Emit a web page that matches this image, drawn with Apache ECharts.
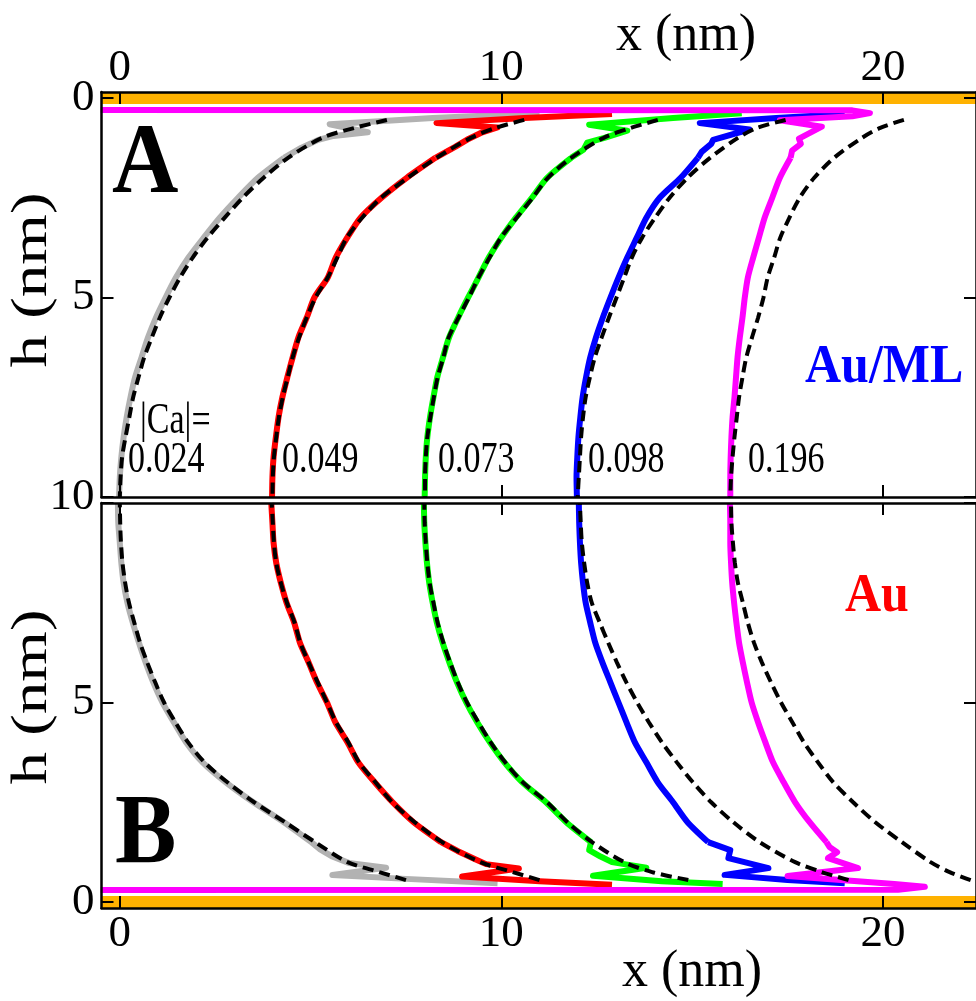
<!DOCTYPE html>
<html>
<head>
<meta charset="utf-8">
<script src="https://cdn.jsdelivr.net/npm/echarts@6/dist/echarts.min.js"></script>
<style>
  html, body { margin: 0; padding: 0; background: #fff; }
  #chart { width: 976px; height: 1001px; }
</style>
</head>
<body>
<div id="chart"></div>
<script>
// Meniscus profiles x(h) for five capillary numbers, panel A (Au/ML walls) and panel B (Au walls).
// Solid: simulated interface; dashed: fitted profile.

const CA_LABELS = ['0.024', '0.049', '0.073', '0.098', '0.196'];
const X_TICKS = [0, 10, 20];
const H_TICKS_A = [0, 5, 10];
const H_TICKS_B = [0, 5];

// heights (nm) at which the fitted profiles are listed
const H_FIT = [0.55, 0.75, 1, 1.5, 2, 2.5, 3, 3.5, 4, 4.5, 5, 5.5, 6, 6.5, 7, 7.5, 8, 8.5, 9, 9.5, 10];
// heights (nm) at which the simulated profiles away from the wall are listed
const H_BULK = [1.5, 2, 2.5, 3, 3.5, 4, 4.5, 5, 5.5, 6, 6.5, 7, 7.5, 8, 8.5, 9, 9.5, 10];

// ---- panel A : fitted x (nm) on H_FIT
const fitA024 = [7.0, 6.15, 5.3, 4.41, 3.77, 3.22, 2.75, 2.3, 1.91, 1.58, 1.3, 1.05, 0.84, 0.64, 0.49, 0.35, 0.25, 0.15, 0.06, 0.02, 0];
const fitA049 = [10.6, 9.85, 9.2, 8.3, 7.55, 6.85, 6.35, 5.95, 5.7, 5.45, 5.13, 4.9, 4.7, 4.53, 4.4, 4.27, 4.17, 4.1, 4.04, 4.01, 4.0];
const fitA073 = [14.1, 13.4, 12.68, 11.83, 11.22, 10.82, 10.4, 9.99, 9.69, 9.4, 9.15, 8.88, 8.62, 8.48, 8.33, 8.23, 8.14, 8.06, 8.02, 8.0, 8.0];
const fitA098 = [17.45, 16.7, 16.2, 15.47, 14.88, 14.41, 14.03, 13.69, 13.42, 13.22, 13.02, 12.82, 12.63, 12.45, 12.32, 12.21, 12.14, 12.09, 12.06, 12.03, 12.0];
const fitA196 = [20.55, 19.93, 19.45, 18.72, 18.2, 17.82, 17.55, 17.31, 17.15, 16.98, 16.87, 16.73, 16.57, 16.42, 16.32, 16.23, 16.17, 16.11, 16.06, 16.02, 16.0];

// ---- panel A : simulated profile, near-wall part as [x, h] and bulk x on H_BULK
const wallA024 = [[11.0, 0.38], [8.2, 0.5], [5.5, 0.66], [6.5, 0.86], [5.6, 0.95], [5.2, 1.05], [4.75, 1.25]];
const bulkA024 = [4.3, 3.62, 3.1, 2.62, 2.2, 1.8, 1.47, 1.2, 0.95, 0.74, 0.57, 0.4, 0.28, 0.18, 0.1, 0.04, 0.0, -0.02];
const wallA049 = [[12.9, 0.4], [10.6, 0.5], [8.3, 0.63], [9.9, 0.74], [9.5, 0.86], [9.15, 1.02], [8.8, 1.22]];
const bulkA049 = [8.27, 7.52, 6.86, 6.31, 5.96, 5.66, 5.45, 5.1, 4.9, 4.68, 4.53, 4.39, 4.26, 4.16, 4.09, 4.03, 4.0, 3.99];
const wallA073 = [[16.3, 0.38], [14.5, 0.5], [12.3, 0.67], [13.3, 0.82], [12.7, 1.0], [12.25, 1.12], [12.15, 1.3]];
const bulkA073 = [11.83, 11.2, 10.8, 10.38, 10.0, 9.67, 9.4, 9.13, 8.87, 8.63, 8.47, 8.32, 8.22, 8.13, 8.06, 8.02, 8.0, 7.99];
const wallA098 = [[19.0, 0.4], [17.2, 0.5], [15.2, 0.63], [16.5, 0.79], [15.55, 1.05], [15.5, 1.15], [15.25, 1.35]];
const bulkA098 = [15.15, 14.7, 14.15, 13.8, 13.55, 13.3, 13.07, 12.86, 12.66, 12.48, 12.33, 12.22, 12.13, 12.07, 12.02, 11.99, 11.97, 11.98];
const wallA196 = [[-0.5, 0.3], [19.2, 0.31], [19.66, 0.38], [19.2, 0.46], [17.3, 0.56], [18.4, 0.72], [17.8, 1.02], [17.85, 1.15], [17.62, 1.32]];
const bulkA196 = [17.58, 17.3, 17.1, 16.9, 16.75, 16.6, 16.46, 16.38, 16.32, 16.25, 16.19, 16.15, 16.11, 16.06, 16.03, 16.01, 16.0, 16.0];

// ---- panel B : fitted x (nm) on H_FIT
const fitB024 = [7.5, 6.8, 5.97, 5.12, 4.33, 3.52, 2.82, 2.22, 1.79, 1.46, 1.16, 0.93, 0.72, 0.53, 0.38, 0.24, 0.14, 0.07, 0.03, 0.01, 0];
const fitB049 = [11.0, 10.3, 9.45, 8.45, 7.73, 7.14, 6.7, 6.27, 5.99, 5.67, 5.43, 5.19, 4.95, 4.73, 4.58, 4.38, 4.22, 4.1, 4.04, 4.01, 3.98];
const fitB073 = [14.9, 13.95, 13.22, 12.38, 11.73, 11.2, 10.56, 10.1, 9.72, 9.4, 9.1, 8.86, 8.66, 8.48, 8.33, 8.22, 8.12, 8.06, 8.02, 7.99, 7.98];
const fitB098 = [19.1, 18.4, 17.7, 16.77, 16.08, 15.5, 15.02, 14.6, 14.21, 13.87, 13.56, 13.28, 13.03, 12.8, 12.58, 12.37, 12.25, 12.17, 12.11, 12.08, 12.06];
const fitB196 = [22.3, 21.75, 21.25, 20.5, 19.8, 19.22, 18.7, 18.3, 17.93, 17.63, 17.33, 17.07, 16.83, 16.62, 16.46, 16.33, 16.2, 16.12, 16.07, 16.03, 16.02];

// ---- panel B : simulated profile
const wallB024 = [[9.9, 0.47], [7.5, 0.58], [5.57, 0.68], [6.98, 0.86], [6.0, 0.98], [5.55, 1.15], [5.25, 1.32]];
const bulkB024 = [5.02, 4.3, 3.5, 2.78, 2.17, 1.74, 1.42, 1.12, 0.88, 0.68, 0.5, 0.34, 0.2, 0.1, 0.04, 0.0, -0.04, -0.05];
const wallB049 = [[12.9, 0.43], [11.0, 0.52], [8.97, 0.64], [10.46, 0.84], [9.6, 0.95], [9.3, 1.08], [8.85, 1.28]];
const bulkB049 = [8.42, 7.7, 7.15, 6.68, 6.25, 5.97, 5.65, 5.43, 5.17, 4.95, 4.72, 4.57, 4.37, 4.22, 4.1, 4.03, 4.0, 3.97];
const wallB073 = [[15.8, 0.45], [14.2, 0.52], [12.4, 0.66], [13.8, 0.86], [12.9, 1.0], [12.6, 1.14], [12.3, 1.3]];
const bulkB073 = [12.35, 11.7, 11.17, 10.55, 10.08, 9.7, 9.37, 9.08, 8.84, 8.64, 8.46, 8.31, 8.2, 8.11, 8.05, 8.01, 7.98, 7.97];
const wallB098 = [[19.0, 0.47], [17.5, 0.55], [15.85, 0.68], [17.0, 0.85], [15.95, 1.1], [16.0, 1.3]];
const bulkB098 = [15.42, 14.88, 14.5, 14.1, 13.8, 13.5, 13.28, 13.07, 12.86, 12.65, 12.46, 12.33, 12.21, 12.14, 12.09, 12.06, 12.04, 12.03];
const wallB196 = [[-0.5, 0.3], [20.4, 0.31], [21.1, 0.38], [20.3, 0.45], [17.5, 0.65], [19.35, 0.85], [18.56, 1.1], [18.8, 1.25], [18.6, 1.38]];
const bulkB196 = [18.52, 18.08, 17.7, 17.4, 17.12, 16.92, 16.73, 16.56, 16.44, 16.33, 16.23, 16.16, 16.1, 16.05, 16.02, 16.0, 16.0, 15.99];

// gold wall surface (h = 0) spanning the whole x range
const WALL_H = 0;

// ---------------------------------------------------------------------------
const X_MIN = -0.48, X_MAX = 22.44;
const H_MIN = -0.15, H_MAX = 10;
const COLORS = ['#b2b2b2', '#ff0000', '#00ff00', '#0000ff', '#ff00ff'];
const ORANGE = '#ffb200';
const SERIF = '"Liberation Serif", "DejaVu Serif", serif';

const simA = [[wallA024, bulkA024], [wallA049, bulkA049], [wallA073, bulkA073], [wallA098, bulkA098], [wallA196, bulkA196]];
const simB = [[wallB024, bulkB024], [wallB049, bulkB049], [wallB073, bulkB073], [wallB098, bulkB098], [wallB196, bulkB196]];
const fitA = [fitA024, fitA049, fitA073, fitA098, fitA196];
const fitB = [fitB024, fitB049, fitB073, fitB098, fitB196];

const bulkPoints = bulk => H_BULK.map((h, i) => [bulk[i], h]);
const fitData = xs => H_FIT.map((h, i) => [xs[i], h]);

function panelSeries(sims, fits, axisIdx, tag) {
  const out = [];
  const common = { type: 'line', xAxisIndex: axisIdx, yAxisIndex: axisIdx, symbol: 'none', silent: true };
  out.push(Object.assign({
    name: 'wall ' + tag, data: [[X_MIN, WALL_H], [X_MAX, WALL_H]],
    lineStyle: { color: ORANGE, width: 12 }, z: 1
  }, common));
  sims.forEach((s, k) => {
    const bulk = bulkPoints(s[1]);
    // near-wall zig-zag drawn with straight segments, meeting the smooth bulk profile
    out.push(Object.assign({
      name: 'sim wall ' + tag + ' ' + CA_LABELS[k], data: s[0].concat([bulk[0]]),
      lineStyle: { color: COLORS[k], width: 6, join: 'round' }, z: 2
    }, common));
    out.push(Object.assign({
      name: 'sim ' + tag + ' ' + CA_LABELS[k], data: bulk, smooth: 0.25,
      lineStyle: { color: COLORS[k], width: 6, join: 'round' }, z: 2
    }, common));
  });
  fits.forEach((f, k) => out.push(Object.assign({
    name: 'fit ' + tag + ' ' + CA_LABELS[k], data: fitData(f), smooth: 0.3,
    lineStyle: { color: '#000', width: 4, type: [11, 6] }, z: 3
  }, common)));
  return out;
}

const axisLine = { show: true, onZero: false, lineStyle: { color: '#000', width: 2.5 } };
const tickStyle = { lineStyle: { color: '#000', width: 2 } };
const labelFont = { color: '#000', fontFamily: SERIF, fontSize: 45 };

function xAxis(gridIndex, position, showLabels, margin) {
  return {
    type: 'value', gridIndex, position, min: X_MIN, max: X_MAX, z: 5,
    axisLine, splitLine: { show: false },
    axisTick: Object.assign({ show: true, inside: true, length: 12, customValues: X_TICKS }, tickStyle),
    axisLabel: Object.assign({ show: showLabels, margin, customValues: X_TICKS }, labelFont)
  };
}
function yAxis(gridIndex, position, inverse, labels) {
  return {
    type: 'value', gridIndex, position, inverse, min: H_MIN, max: H_MAX, z: 5,
    axisLine, splitLine: { show: false },
    axisTick: Object.assign({ show: true, inside: true, length: 12, customValues: H_TICKS_A }, tickStyle),
    axisLabel: Object.assign({ show: !!labels, margin: 7, customValues: labels || [] }, labelFont)
  };
}

const chart = echarts.init(document.getElementById('chart'), null, { renderer: 'canvas' });

function txt(text, x, y, size, opts) {
  opts = opts || {};
  return {
    type: 'text', x, y, rotation: opts.rotation || 0,
    scaleX: opts.scaleX || 1, scaleY: opts.scaleY || 1, z: 10,
    style: {
      text, fill: opts.fill || '#000', font: (opts.bold ? 'bold ' : '') + size + 'px ' + SERIF,
      align: opts.align || 'left', verticalAlign: 'middle'
    }
  };
}

const caLeft = [128, 282, 438, 588, 748];

chart.setOption({
  animation: false,
  backgroundColor: '#fff',
  grid: [
    { left: 101.5, top: 92, width: 876.5, height: 405 },
    { left: 101.5, top: 503, width: 876.5, height: 405 }
  ],
  xAxis: [
    xAxis(0, 'top', true, 1),
    xAxis(0, 'bottom', false, 2),
    xAxis(1, 'bottom', true, 4),
    xAxis(1, 'top', false, 2)
  ],
  yAxis: [
    yAxis(0, 'left', true, H_TICKS_A),
    yAxis(0, 'right', true, null),
    yAxis(1, 'left', false, H_TICKS_B),
    yAxis(1, 'right', false, null)
  ],
  series: panelSeries(simA, fitA, 0, 'A').concat(panelSeries(simB, fitB, 2, 'B')),
  graphic: [
    txt('x (nm)', 686, 36, 52, { align: 'center' }),
    txt('x (nm)', 692, 972, 52, { align: 'center' }),
    txt('h (nm)', 33, 280, 50, { align: 'center', rotation: Math.PI / 2, scaleX: 1.3 }),
    txt('h (nm)', 33, 697, 50, { align: 'center', rotation: Math.PI / 2, scaleX: 1.3 }),
    txt('A', 112, 166, 92, { bold: true, scaleY: 1.08 }),
    txt('B', 115, 836, 92, { bold: true, scaleY: 1.08 }),
    txt('Au/ML', 805, 368, 50, { bold: true, fill: '#0000ff', scaleY: 1.1 }),
    txt('Au', 845, 597, 50, { bold: true, fill: '#ff0000', scaleY: 1.1 }),
    txt('|Ca|=', 140, 421, 34, { scaleY: 1.3 })
  ].concat(CA_LABELS.map((s, k) => txt(s, caLeft[k], 460, 34, { scaleY: 1.3 })))
});
</script>
</body>
</html>
